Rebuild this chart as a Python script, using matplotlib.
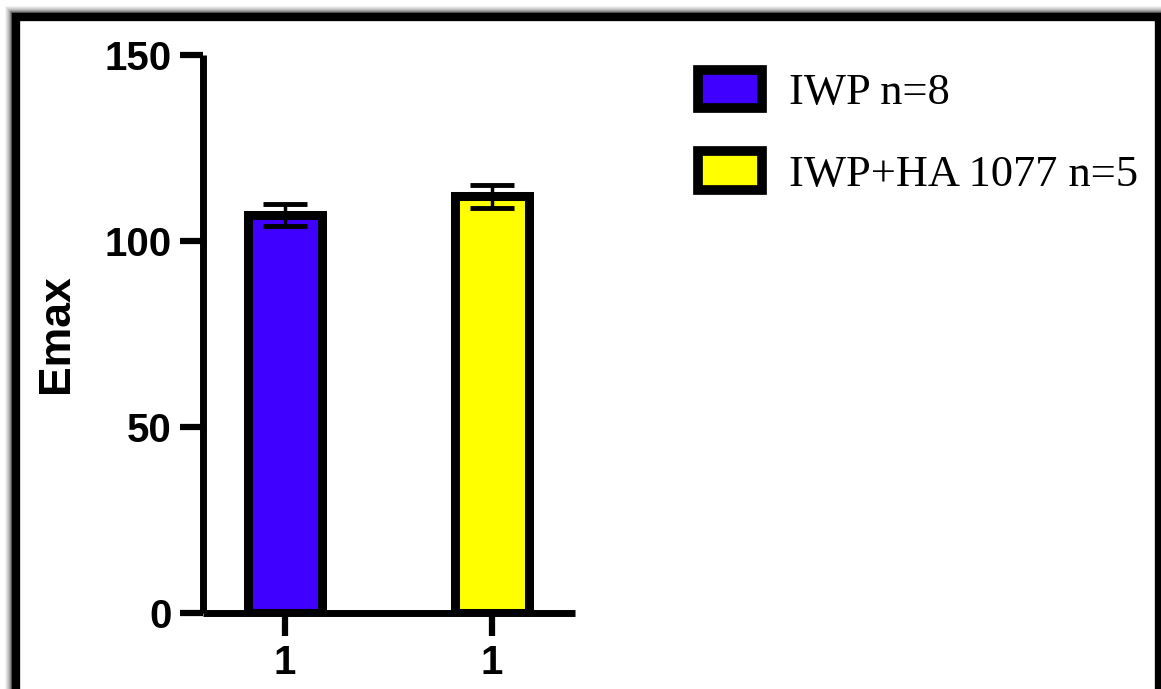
#!/usr/bin/env python3

import matplotlib
matplotlib.use("Agg")
from matplotlib import pyplot as plt
from matplotlib.patches import Rectangle, Patch

# data
groups = ["IWP n=8", "IWP+HA 1077 n=5"]
tick_labels = ["1", "1"]
means = [107.0, 112.0]
sems = [3.0, 3.0]
colors = ["#4000ff", "#ffff00"]

plt.rcParams["font.family"] = ["Liberation Sans", "DejaVu Sans"]

fig = plt.figure(figsize=(11.61, 6.89), dpi=100)
W, H = 1161, 689

# framed-window look with shadow
for i, a in enumerate([0.04, 0.07, 0.1, 0.15, 0.22, 0.3, 0.42, 0.6]):
    off = 10 - i
    fig.patches.append(Rectangle(((16 - off) / W, -0.2), (1143 + 2 * off) / W,
                                 (689 - 17 + off) / H + 0.2, transform=fig.transFigure,
                                 facecolor="none", edgecolor="black", alpha=a,
                                 linewidth=1.5, zorder=-20))
fig.patches.append(Rectangle((16 / W, -0.2), 1143 / W, (689 - 17) / H + 0.2,
                             transform=fig.transFigure, facecolor="white",
                             edgecolor="black", linewidth=6, zorder=-10))

ax = fig.add_axes([203 / W, 1 - 613 / H, (575 - 203) / W, (613 - 55) / H])
ax.set_zorder(5)
ax.set_facecolor("none")

x = list(range(len(means)))
ax.bar(x, means, width=0.357, color=colors, edgecolor="black", linewidth=6.5, zorder=2)
ax.errorbar(x, means, yerr=sems, fmt="none", ecolor="black", elinewidth=2.5,
            capsize=16, capthick=3.5, zorder=3)

ax.set_xlim(-0.396, 1.401)
ax.set_ylim(0, 150)
ax.set_yticks([0, 50, 100, 150])
ax.set_xticks(x)
ax.set_xticklabels(tick_labels)

for s in ["top", "right"]:
    ax.spines[s].set_visible(False)
for s in ["left", "bottom"]:
    ax.spines[s].set_linewidth(5)
    ax.spines[s].set_capstyle("butt")

ax.tick_params(axis="both", width=4.5, length=16.5, labelsize=29, pad=6)
for lab in ax.get_xticklabels() + ax.get_yticklabels():
    lab.set_fontweight("bold")

ax.set_ylabel("Emax", fontsize=32, fontweight="bold", labelpad=20)

handles = [Patch(facecolor=c, edgecolor="black", linewidth=7) for c in colors]
leg = fig.legend(handles, groups, loc="upper left", bbox_to_anchor=(698 / W, 1 - 70 / H),
                 frameon=False, prop={"family": "Liberation Serif", "size": 32},
                 handlelength=1.45, handleheight=0.95, handletextpad=0.6,
                 labelspacing=0.85, borderaxespad=0, borderpad=0)
leg.set_zorder(6)

plt.savefig("out.png", dpi=100)
